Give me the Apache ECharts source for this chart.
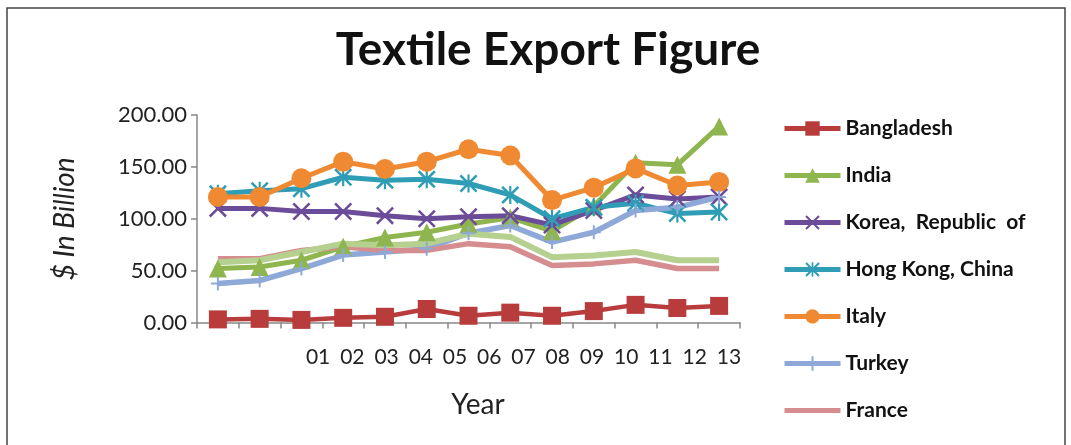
<!DOCTYPE html>
<html>
<head>
<meta charset="utf-8">
<script src="https://cdn.jsdelivr.net/npm/echarts@6/dist/echarts.min.js"></script>
<style>
html,body{margin:0;padding:0;background:#fff;}
#c{width:1071px;height:445px;}
</style>
</head>
<body>
<div id="c"></div>
<script>
const years = ['01','02','03','04','05','06','07','08','09','10','11','12','13'];
const yTicks = [0, 50, 100, 150, 200];
const bangladesh = [3, 3.5, 2.5, 4.5, 5.5, 13, 6.5, 9.5, 6.5, 11, 17, 14, 16];
const india      = [52, 53.5, 60, 73, 82, 87, 95, 101, 88, 112, 154, 152, 189];
const korea      = [110, 110, 107, 107, 103, 100, 102, 103, 94, 108, 123, 119, 121];
const hongkong   = [124, 127, 129, 140, 137, 138, 134, 123, 100, 111, 115, 105, 106.5];
const italy      = [121, 121, 139, 155, 148, 155, 167, 161, 118, 130, 148.5, 132, 135.5];
const turkey     = [37.5, 40.5, 52, 65, 68, 71, 86, 93.5, 77.5, 87, 108, 111, 121];
const france     = [61.5, 61.5, 69.5, 73, 69.5, 69.5, 76, 73, 55, 56.5, 60, 52, 52];
const series8    = [58, 60, 68, 76, 74.5, 76, 85.5, 82.5, 63, 64.5, 68, 60, 60];

const X_PATH = 'path://M0,1 L1,0 L5,4 L9,0 L10,1 L6,5 L10,9 L9,10 L5,6 L1,10 L0,9 L4,5 Z';
const STAR_PATH = 'path://M0,1 L1,0 L5,4 L9,0 L10,1 L6,5 L10,9 L9,10 L5,6 L1,10 L0,9 L4,5 Z M4.4,0 L5.6,0 L5.6,10 L4.4,10 Z';
const PLUS_PATH = 'path://M4.3,0 L5.7,0 L5.7,4.3 L10,4.3 L10,5.7 L5.7,5.7 L5.7,10 L4.3,10 L4.3,5.7 L0,5.7 L0,4.3 L4.3,4.3 Z';
const BAR_ICON = 'path://M0,6.5 L56,6.5 L56,11.5 L0,11.5 Z M0,0 L0.01,0 L0,18 Z';

function s(name, data, color, symbol, size, width) {
  return {
    name: name, type: 'line', data: data, xAxisIndex: 0, yAxisIndex: 0,
    symbol: symbol, symbolSize: size, showSymbol: symbol !== 'none',
    smooth: false,
    lineStyle: {color: color, width: width},
    itemStyle: {color: color},
    emphasis: {disabled: true},
    animation: false
  };
}

const chart = echarts.init(document.getElementById('c'));
chart.setOption({
  backgroundColor: '#ffffff',
  animation: false,
  title: {
    text: 'Textile Export Figure',
    left: 543, top: 22, textAlign: 'center',
    textStyle: {fontFamily: 'Lato', fontWeight: 'bold', fontSize: 46, color: '#111'}
  },
  graphic: [{
    type: 'rect', silent: true,
    shape: {x: 7, y: 8, width: 1058, height: 470},
    style: {fill: 'none', stroke: '#444', lineWidth: 1.5}
  }],
  legend: {
    orient: 'vertical', left: 782, top: 118, padding: 0,
    itemWidth: 56, itemHeight: 18, itemGap: 26,
    lineStyle: {width: 5},
    data: ['Bangladesh','India','Korea,  Republic  of','Hong Kong, China','Italy','Turkey',
           {name: 'France', icon: BAR_ICON}],
    textStyle: {fontFamily: 'Lato', fontWeight: 'bold', fontSize: 21, color: '#111'}
  },
  grid: [
    {left: 197, right: 331, top: 115, bottom: 122.5, containLabel: false},
    {left: 301, right: 325, top: 115, bottom: 122.5, containLabel: false}
  ],
  xAxis: [
    {
      type: 'category', gridIndex: 0, data: years, boundaryGap: true,
      axisLine: {lineStyle: {color: '#888', width: 1.5}},
      axisTick: {show: true, interval: 0, length: 6, lineStyle: {color: '#888', width: 1.5}},
      axisLabel: {show: false},
      name: 'Year', nameLocation: 'middle', nameGap: 68,
      nameTextStyle: {fontFamily: 'Lato', fontSize: 28, color: '#222', padding: [0, 0, 0, 19]}
    },
    {
      type: 'category', gridIndex: 1, data: years, boundaryGap: true,
      axisLine: {show: false}, axisTick: {show: false},
      axisLabel: {show: true, interval: 0, margin: 24, fontFamily: 'Lato', fontSize: 21, color: '#222'}
    }
  ],
  yAxis: [
    {
      type: 'value', gridIndex: 0, min: yTicks[0], max: yTicks[yTicks.length-1], interval: 50,
      axisLine: {show: true, lineStyle: {color: '#888', width: 1.5}},
      axisTick: {show: true, length: 6, lineStyle: {color: '#888', width: 1.5}},
      splitLine: {show: false},
      axisLabel: {margin: 10, fontFamily: 'Lato', fontSize: 22, color: '#222', formatter: v => v.toFixed(2)},
      name: '$ In Billion', nameLocation: 'middle', nameGap: 118, nameRotate: 90,
      nameTextStyle: {fontFamily: 'Lato', fontStyle: 'italic', fontSize: 28, color: '#222'}
    },
    {type: 'value', gridIndex: 1, min: 0, max: 200, show: false}
  ],
  series: [
    s('Bangladesh', bangladesh, '#b83c3c', 'rect', 18, 4.5),
    s('India', india, '#8fb54f', 'triangle', 18, 5),
    s('Korea,  Republic  of', korea, '#6b4c98', X_PATH, 18, 5),
    s('Hong Kong, China', hongkong, '#2f9db5', STAR_PATH, 18, 5),
    s('Italy', italy, '#f08a32', 'circle', 20, 5),
    s('Turkey', turkey, '#8ea9d8', PLUS_PATH, 14, 5.5),
    s('France', france, '#d68d8f', 'none', 0, 5.5),
    s('Series 8', series8, '#b5d08f', 'none', 0, 6)
  ]
});
</script>
</body>
</html>
